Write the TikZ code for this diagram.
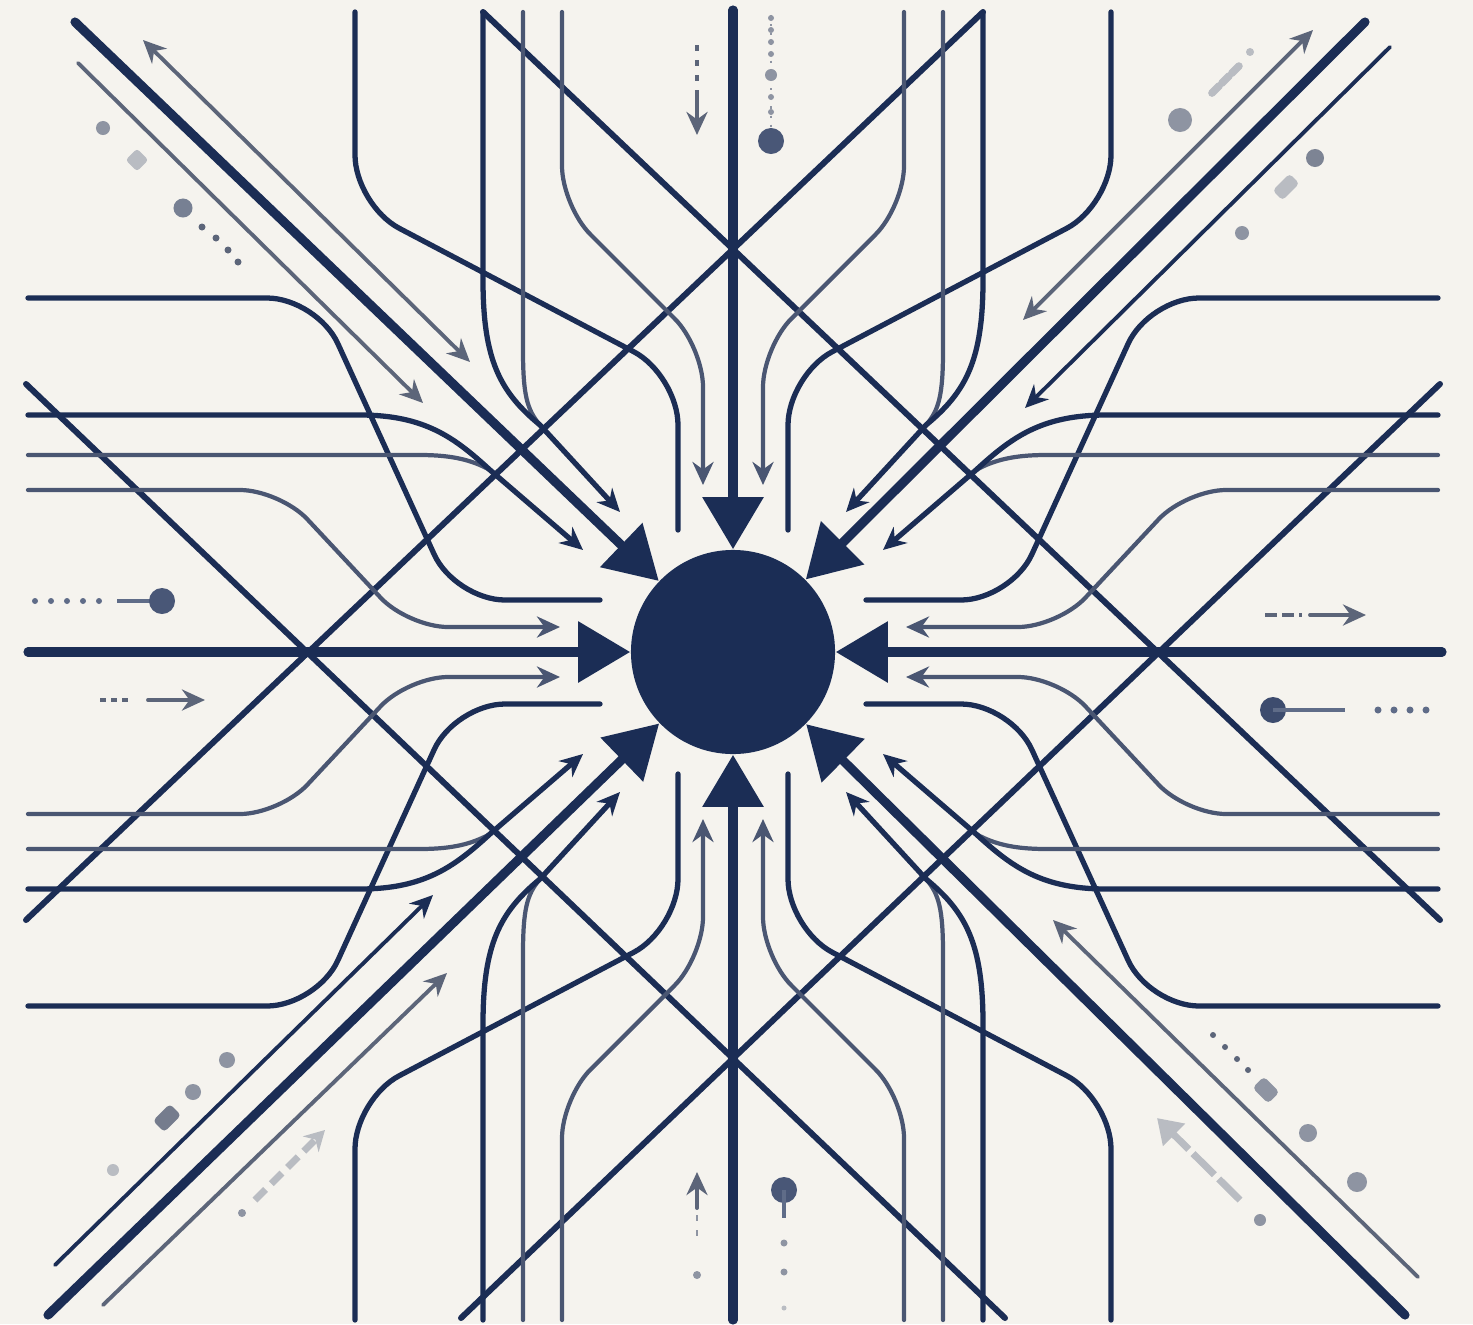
\documentclass[tikz,border=0pt]{standalone}
\usetikzlibrary{arrows.meta}
\definecolor{navy}{HTML}{1B2D55}
\definecolor{steel}{HTML}{4A5672}
\definecolor{slate}{HTML}{5C6579}
\definecolor{mist}{HTML}{8E94A2}
\definecolor{haze}{HTML}{B9BCC2}
\definecolor{paper}{HTML}{F5F3EE}
\begin{document}
\begin{tikzpicture}[
  x=0.01cm, y=-0.01cm,
  >={Stealth[length=2.3mm,width=2.1mm]},
  spoke/.style={navy, line width=2.6pt, line cap=round, -{Triangle[length=5.2mm,width=5.9mm]}},
  cross/.style={navy, line width=1.7pt, line cap=round},
  track/.style={navy, line width=1.5pt, line cap=round, rounded corners=5mm},
  feed/.style={steel, line width=1.2pt, line cap=round, rounded corners=4mm},
  pointer/.style={slate, line width=1.1pt, line cap=round, ->},
  twoway/.style={pointer, <->}
]
\useasboundingbox (0,0) rectangle (1473,1324);
\fill[paper] (0,0) rectangle (1473,1324);

\draw[cross] (483,12) -- (1440,920);
\draw[cross] (983,12) -- (26,920);
\draw[cross] (26,384) -- (1005,1318);
\draw[cross] (1440,384) -- (461,1318);

\foreach \sx/\sy/\e in {1/1/12, -1/1/12, 1/-1/-16, -1/-1/-16}{
\begin{scope}[shift={({733*(1-(\sx))},{652*(1-(\sy))})}, xscale=\sx, yscale=\sy]
  \draw[track] (355,\e) -- (355,205) -- (678,375) -- (678,530);
  \draw[feed, sharp corners] (523,\e) -- (523,350) .. controls (523,395) and (527,410) .. (540,425);
  \draw[track, sharp corners, ->] (483,\e) -- (483,280) .. controls (483,360) and (500,392) .. (540,425) -- (620,512);
  \draw[feed, ->] (562,\e) -- (562,206) -- (703,347) -- (703,485);
  \draw[track] (28,298) -- (317,298) -- (455,600) -- (600,600);
  \draw[feed, sharp corners] (28,455) -- (420,455) .. controls (452,455) and (472,460) .. (490,470);
  \draw[track, sharp corners, ->] (28,415) -- (360,415) .. controls (425,415) and (455,438) .. (490,470) -- (583,550);
  \draw[feed, ->] (28,490) -- (280,490) -- (408,627) -- (560,627);
\end{scope}
}

\draw[twoway] (143,40) -- (470,362);
\draw[pointer] (78,63) -- (423,403);
\draw[twoway] (1313,30) -- (1023,320);
\draw[pointer, navy] (1390,47) -- (1025,408);
\draw[pointer, navy] (55,1265) -- (433,895);
\draw[pointer] (103,1305) -- (447,973);
\draw[pointer] (1418,1277) -- (1053,920);

\node[circle, fill=navy, inner sep=0pt, minimum size=20.4mm] (core) at (733,652) {};
\coordinate (w) at (28,652);
\coordinate (e) at (1442,652);
\coordinate (n) at (733,10);
\coordinate (s) at (733,1320);
\coordinate (nw) at (75,22);
\coordinate (ne) at (1365,22);
\coordinate (sw) at (48,1315);
\coordinate (se) at (1405,1315);
\foreach \c in {w,e,n,s,nw,ne,sw,se}
  \draw[spoke] (\c) -- (core);

\draw[slate, line width=0.9pt, dash pattern=on 0.6mm off 0.9mm] (697,45) -- (697,95);
\draw[pointer] (697,95) -- (697,135);
\draw[mist, line width=0.6pt, dotted] (771,15) -- (771,130);
\foreach \y in {18,30,42,54,97,112}
  \fill[mist] (771,\y) circle (0.3mm);
\fill[mist] (771,75) circle (0.6mm);
\fill[navy!80] (771,141) circle (1.3mm);

\draw[pointer] (697,1208) -- (697,1172);
\draw[mist, line width=0.8pt, dash pattern=on 0.6mm off 0.9mm] (697,1215) -- (697,1245);
\fill[mist] (697,1275) circle (0.4mm);
\fill[navy!80] (784,1190) circle (1.3mm);
\draw[navy!70, line width=1pt] (784,1190) -- (784,1218);
\fill[mist] (784,1243) circle (0.35mm);
\fill[mist] (784,1272) circle (0.35mm);
\fill[haze] (784,1308) circle (0.25mm);

\foreach \x in {35,51,67,83,99}
  \fill[navy!70] (\x,601) circle (0.3mm);
\draw[navy!70, line width=1.3pt] (117,601) -- (150,601);
\fill[navy!80] (162,601) circle (1.3mm);
\draw[slate, line width=1pt, dash pattern=on 0.6mm off 0.5mm] (100,700) -- (130,700);
\draw[pointer] (148,700) -- (205,700);

\draw[slate, line width=1pt, dash pattern=on 1.2mm off 0.5mm] (1265,615) -- (1302,615);
\draw[pointer] (1310,615) -- (1366,615);
\fill[navy!85] (1273,710) circle (1.3mm);
\draw[navy!70, line width=1.3pt] (1273,710) -- (1345,710);
\foreach \x in {1378,1394,1410,1426}
  \fill[navy!70] (\x,710) circle (0.35mm);

\fill[mist] (103,128) circle (0.7mm);
\fill[haze, shift={(137,160)}, rotate=45, rounded corners=0.3mm] (-8,-8) rectangle (8,8);
\fill[mist!80!navy] (183,208) circle (0.95mm);
\foreach \x/\y in {202/227, 216/238, 228/250, 238/262}
  \fill[slate] (\x,\y) circle (0.35mm);

\fill[mist] (1180,120) circle (1.2mm);
\draw[haze, line width=2.2pt, line cap=round, dash pattern=on 1mm off 0.4mm] (1212,93) -- (1240,65);
\fill[haze] (1250,52) circle (0.4mm);
\fill[slate!80] (1315,158) circle (0.9mm);
\fill[haze, shift={(1286,187)}, rotate=45, rounded corners=0.4mm] (-12,-7) rectangle (12,7);
\fill[mist] (1242,233) circle (0.7mm);

\fill[mist] (227,1060) circle (0.8mm);
\fill[mist] (193,1092) circle (0.8mm);
\fill[slate!85, shift={(167,1118)}, rotate=45, rounded corners=0.4mm] (-12,-8) rectangle (12,8);
\fill[haze] (113,1170) circle (0.6mm);
\fill[mist] (242,1213) circle (0.4mm);
\draw[haze, line width=2pt, dash pattern=on 1.5mm off 0.8mm, -{Stealth[length=2mm,width=2.2mm]}] (255,1200) -- (325,1130);

\foreach \x/\y in {1213/1035, 1225/1047, 1237/1059, 1248/1070}
  \fill[slate] (\x,\y) circle (0.3mm);
\fill[mist, shift={(1266,1090)}, rotate=-45, rounded corners=0.4mm] (-11,-8) rectangle (11,8);
\fill[mist] (1308,1133) circle (0.9mm);
\fill[mist] (1357,1182) circle (1mm);
\fill[mist] (1260,1220) circle (0.6mm);
\draw[haze, line width=2pt, dash pattern=on 3mm off 0.6mm, -{Triangle[length=2.4mm,width=3mm]}] (1240,1200) -- (1157,1118);
\end{tikzpicture}
\end{document}
